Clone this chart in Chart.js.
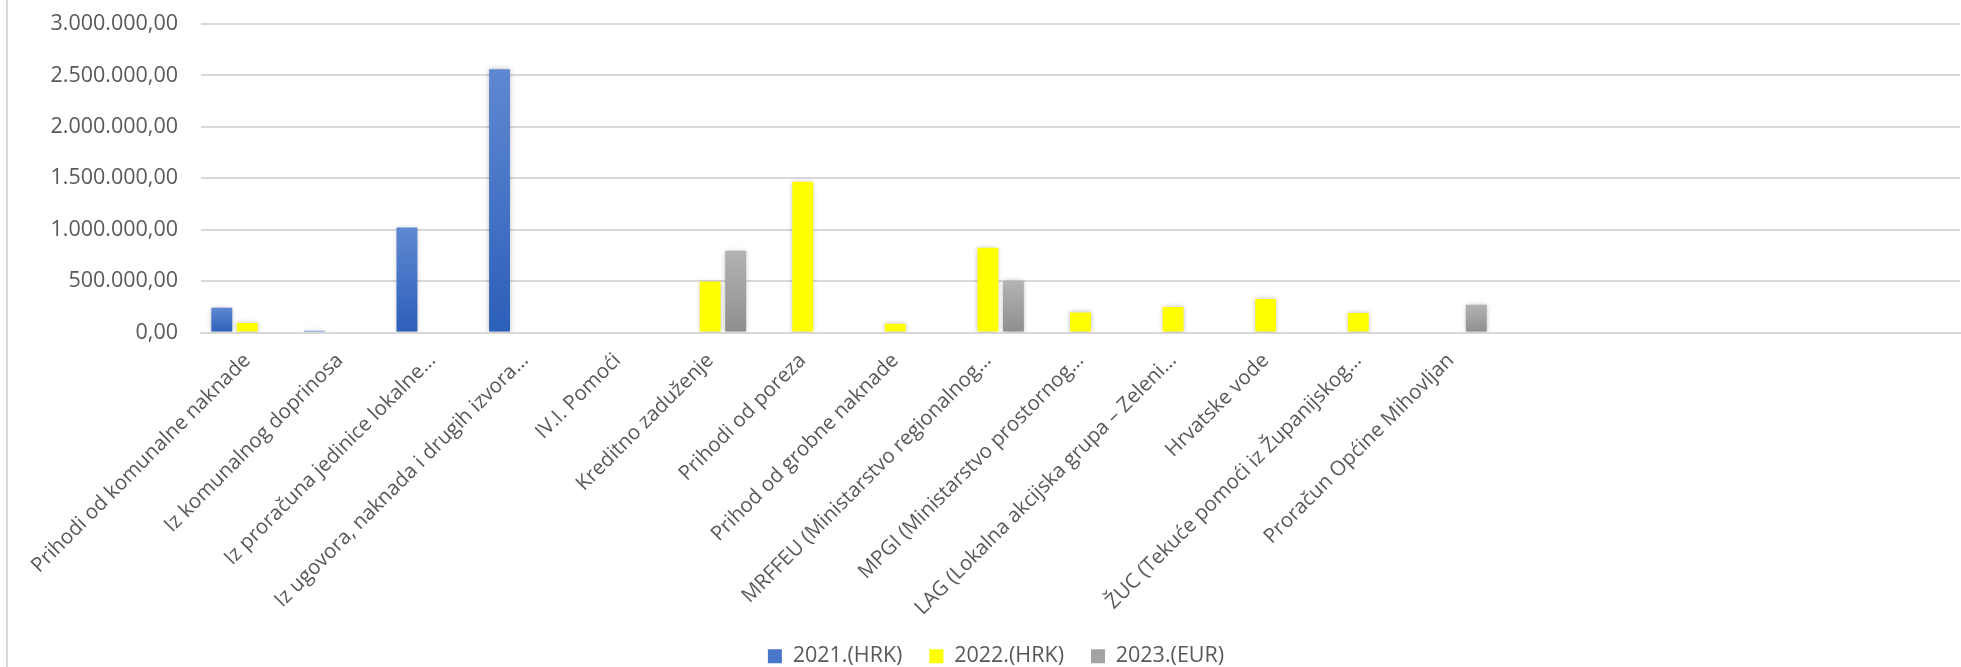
<!DOCTYPE html>
<html>
<head>
<meta charset="utf-8">
<script src="https://cdn.jsdelivr.net/npm/chart.js@4/dist/chart.umd.min.js"></script>
<style>
    html, body { margin: 0; padding: 0; background: #fff; overflow: hidden; }
    body { width: 1961px; height: 667px; position: relative; }
    #frame { position: absolute; left: 6px; top: 0; width: 2px; height: 667px; background: #d9d9d9; }
    #wrap { position: absolute; left: 8px; top: 0; width: 2010px; height: 677px; }
</style>
</head>
<body>
<div id="frame"></div>
<div id="wrap"><canvas id="chart"></canvas></div>
<script>
const categories = [
    'Prihodi od komunalne naknade',
    'Iz komunalnog doprinosa',
    'Iz proračuna jedinice lokalne…',
    'Iz ugovora, naknada i drugih izvora…',
    'IV.I. Pomoći',
    'Kreditno zaduženje',
    'Prihodi od poreza',
    'Prihod od grobne naknade',
    'MRFFEU (Ministarstvo regionalnog…',
    'MPGI (Ministarstvo prostornog…',
    'LAG (Lokalna akcijska grupa – Zeleni…',
    'Hrvatske vode',
    'ŽUC (Tekuće pomoći iz Županijskog…',
    'Proračun Općine Mihovljan',
    '', '', '', '', ''
];

const seriesNames = ['2021.(HRK)', '2022.(HRK)', '2023.(EUR)'];

const values2021 = [240000, 17000, 1020000, 2560000, null, null, null, null, null, null, null, null, null, null];
const values2022 = [92000, null, null, null, null, 495000, 1467000, 85000, 825000, 195000, 247000, 325000, 189000, null];
const values2023 = [null, null, null, null, null, 795000, null, null, 500000, null, null, null, null, 270000];

const yTicks = [0, 500000, 1000000, 1500000, 2000000, 2500000, 3000000];

const legendColors = ['#4a76c9', '#ffff00', '#a3a3a3'];

function fmt(v) {
    return Math.round(v).toString().replace(/\B(?=(\d{3})+(?!\d))/g, '.') + ',00';
}

function barGradient(top, bottom) {
    return (ctx) => {
        const chart = ctx.chart;
        const y = chart.scales && chart.scales.y;
        if (!y || ctx.raw == null || !chart.chartArea) return bottom;
        const y0 = y.getPixelForValue(ctx.raw);
        const y1 = y.getPixelForValue(0);
        if (!isFinite(y0) || !isFinite(y1) || y0 === y1) return bottom;
        const g = chart.ctx.createLinearGradient(0, y0, 0, y1);
        g.addColorStop(0, top);
        g.addColorStop(1, bottom);
        return g;
    };
}

// soft outer shadow like the office chart
const barShadow = {
    id: 'barShadow',
    beforeDatasetsDraw(chart) {
        const c = chart.ctx;
        c.save();
        c.shadowColor = 'rgba(0,0,0,0.28)';
        c.shadowBlur = 5;
        c.shadowOffsetX = 0;
        c.shadowOffsetY = 0;
    },
    afterDatasetsDraw(chart) {
        chart.ctx.restore();
    }
};

// long rotated labels run past the axis box, don't cut them; nudge legend to centre of original frame
const layoutTweaks = {
    id: 'layoutTweaks',
    afterLayout(chart) {
        chart.legend.left += 12;
        chart.legend.right += 12;
    },
    beforeDraw(chart) {
        chart.scales.x._computeLabelArea = () => undefined;
    }
};

const tickFont = { family: '"Open Sans", "Noto Sans", sans-serif', size: 21.5 };
const catFont = { family: '"Open Sans", "Noto Sans", sans-serif', size: 20.5 };

new Chart(document.getElementById('chart'), {
    type: 'bar',
    data: {
        labels: categories,
        datasets: [
            { label: seriesNames[0], data: values2021, backgroundColor: barGradient('#5f88d2', '#2c5fb9') },
            { label: seriesNames[1], data: values2022, backgroundColor: '#ffff00' },
            { label: seriesNames[2], data: values2023, backgroundColor: barGradient('#b3b3b3', '#8e8e8e') }
        ]
    },
    options: {
        responsive: true,
        maintainAspectRatio: false,
        animation: false,
        categoryPercentage: 0.826,
        barPercentage: 0.82,
        layout: { padding: { top: 24, right: 58, bottom: 0, left: 0 } },
        plugins: {
            tooltip: { enabled: false },
            legend: {
                position: 'bottom',
                labels: {
                    font: tickFont,
                    color: '#595959',
                    boxWidth: 14,
                    boxHeight: 14,
                    padding: 27,
                    generateLabels(chart) {
                        const items = Chart.defaults.plugins.legend.labels.generateLabels(chart);
                        items.forEach((it, i) => {
                            it.fillStyle = legendColors[i];
                            it.strokeStyle = legendColors[i];
                            it.lineWidth = 0;
                        });
                        return items;
                    }
                }
            }
        },
        scales: {
            x: {
                grid: { display: false, drawTicks: false },
                border: { display: true, color: '#d9d9d9', width: 2 },
                ticks: {
                    font: catFont,
                    color: '#595959',
                    minRotation: 45,
                    maxRotation: 45,
                    autoSkip: false,
                    padding: 16
                },
                afterFit(scale) { scale.height = 286; }
            },
            y: {
                min: 0,
                max: 3000000,
                afterBuildTicks(scale) { scale.ticks = yTicks.map(v => ({ value: v })); },
                grid: { color: '#d9d9d9', lineWidth: 2, drawTicks: false },
                border: { display: false },
                ticks: {
                    font: tickFont,
                    color: '#595959',
                    padding: 23,
                    callback: (value) => fmt(value)
                },
                afterFit(scale) {
                    scale.width = 193;
                    scale.paddingTop = 12;
                    scale.paddingBottom = 12;
                }
            }
        }
    },
    plugins: [barShadow, layoutTweaks]
});
</script>
</body>
</html>
